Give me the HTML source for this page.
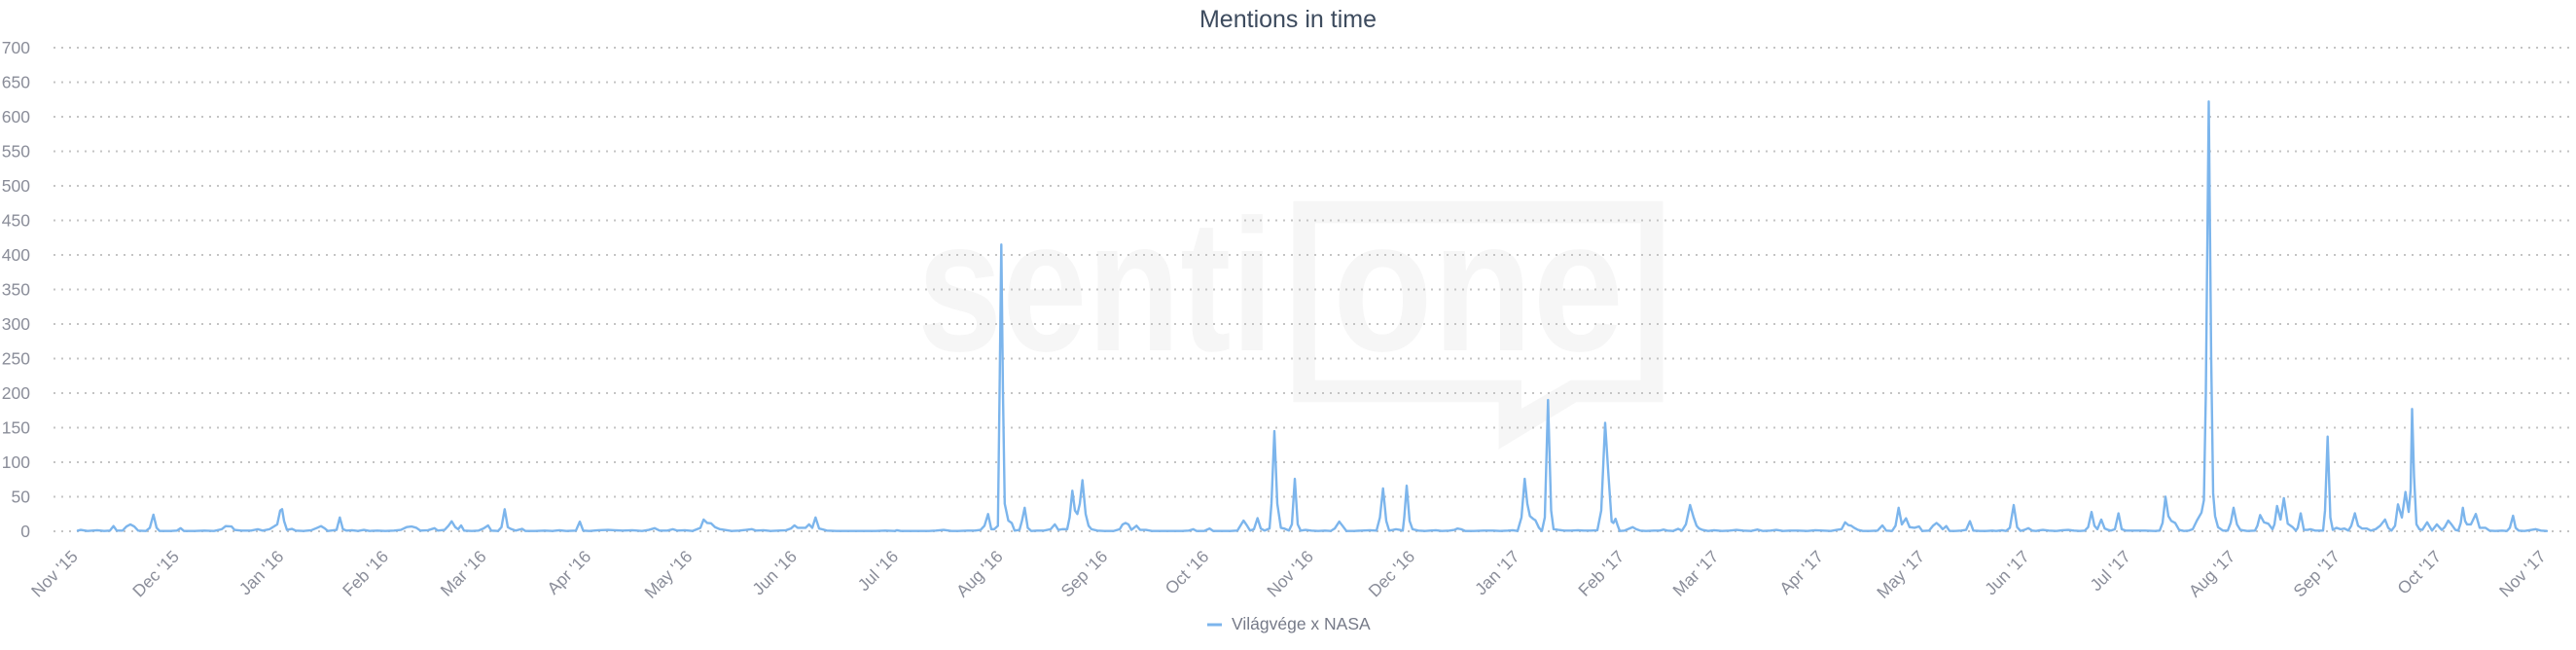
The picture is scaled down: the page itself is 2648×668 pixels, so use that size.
<!DOCTYPE html>
<html>
<head>
<meta charset="utf-8">
<style>
html,body{margin:0;padding:0;background:#fff;}
svg{display:block;}
text{font-family:"Liberation Sans",sans-serif;}
</style>
</head>
<body>
<svg width="2648" height="668" viewBox="0 0 2648 668" xmlns="http://www.w3.org/2000/svg">
<rect x="0" y="0" width="2648" height="668" fill="#ffffff"/>

<!-- watermark -->
<g fill="#f6f6f6">
  <text x="943" y="360" font-size="193" font-weight="bold" textLength="366" lengthAdjust="spacingAndGlyphs" style="font-family:'Liberation Sans',sans-serif">senti</text>
  <text x="1370" y="360" font-size="193" font-weight="bold" textLength="299" lengthAdjust="spacingAndGlyphs" style="font-family:'Liberation Sans',sans-serif">one</text>
  <path fill-rule="evenodd" d="M1329.4,206.7 H1709.4 V413.3 H1620.4 L1540.6,461.7 V413.3 H1329.4 Z M1351.8,229.3 H1686.5 V390.7 H1614.7 L1564,420 V390.7 H1351.8 Z"/>
</g>

<!-- grid -->
<g stroke="#c4c4c4" stroke-width="2" stroke-dasharray="2,6" fill="none">
  <line x1="55" x2="2644" y1="49" y2="49"/>
  <line x1="55" x2="2644" y1="84.5" y2="84.5"/>
  <line x1="55" x2="2644" y1="120" y2="120"/>
  <line x1="55" x2="2644" y1="155.5" y2="155.5"/>
  <line x1="55" x2="2644" y1="191" y2="191"/>
  <line x1="55" x2="2644" y1="226.5" y2="226.5"/>
  <line x1="55" x2="2644" y1="262" y2="262"/>
  <line x1="55" x2="2644" y1="297.5" y2="297.5"/>
  <line x1="55" x2="2644" y1="333" y2="333"/>
  <line x1="55" x2="2644" y1="368.5" y2="368.5"/>
  <line x1="55" x2="2644" y1="404" y2="404"/>
  <line x1="55" x2="2644" y1="439.5" y2="439.5"/>
  <line x1="55" x2="2644" y1="475" y2="475"/>
  <line x1="55" x2="2644" y1="510.5" y2="510.5"/>
  <line x1="55" x2="2644" y1="546" y2="546"/>
</g>

<!-- y labels -->
<g fill="#8a8d99" font-size="17.5" text-anchor="end">
  <text x="31" y="55">700</text>
  <text x="31" y="90.5">650</text>
  <text x="31" y="126">600</text>
  <text x="31" y="161.5">550</text>
  <text x="31" y="197">500</text>
  <text x="31" y="232.5">450</text>
  <text x="31" y="268">400</text>
  <text x="31" y="303.5">350</text>
  <text x="31" y="339">300</text>
  <text x="31" y="374.5">250</text>
  <text x="31" y="410">200</text>
  <text x="31" y="445.5">150</text>
  <text x="31" y="481">100</text>
  <text x="31" y="516.5">50</text>
  <text x="31" y="552">0</text>
</g>

<!-- title -->
<text x="1324" y="28" text-anchor="middle" font-size="25" fill="#3d4b5e">Mentions in time</text>

<!-- x labels -->
<g fill="#8a8d99" font-size="17.5" text-anchor="end">
  <text x="81" y="573" transform="rotate(-45 81 573)">Nov '15</text>
  <text x="185.1" y="573" transform="rotate(-45 185.1 573)">Dec '15</text>
  <text x="292.7" y="573" transform="rotate(-45 292.7 573)">Jan '16</text>
  <text x="400.3" y="573" transform="rotate(-45 400.3 573)">Feb '16</text>
  <text x="500.9" y="573" transform="rotate(-45 500.9 573)">Mar '16</text>
  <text x="608.5" y="573" transform="rotate(-45 608.5 573)">Apr '16</text>
  <text x="712.7" y="573" transform="rotate(-45 712.7 573)">May '16</text>
  <text x="820.2" y="573" transform="rotate(-45 820.2 573)">Jun '16</text>
  <text x="924.4" y="573" transform="rotate(-45 924.4 573)">Jul '16</text>
  <text x="1031.9" y="573" transform="rotate(-45 1031.9 573)">Aug '16</text>
  <text x="1139.5" y="573" transform="rotate(-45 1139.5 573)">Sep '16</text>
  <text x="1243.7" y="573" transform="rotate(-45 1243.7 573)">Oct '16</text>
  <text x="1351.2" y="573" transform="rotate(-45 1351.2 573)">Nov '16</text>
  <text x="1455.4" y="573" transform="rotate(-45 1455.4 573)">Dec '16</text>
  <text x="1562.9" y="573" transform="rotate(-45 1562.9 573)">Jan '17</text>
  <text x="1670.5" y="573" transform="rotate(-45 1670.5 573)">Feb '17</text>
  <text x="1767.7" y="573" transform="rotate(-45 1767.7 573)">Mar '17</text>
  <text x="1875.3" y="573" transform="rotate(-45 1875.3 573)">Apr '17</text>
  <text x="1979.4" y="573" transform="rotate(-45 1979.4 573)">May '17</text>
  <text x="2087" y="573" transform="rotate(-45 2087 573)">Jun '17</text>
  <text x="2191.1" y="573" transform="rotate(-45 2191.1 573)">Jul '17</text>
  <text x="2298.7" y="573" transform="rotate(-45 2298.7 573)">Aug '17</text>
  <text x="2406.3" y="573" transform="rotate(-45 2406.3 573)">Sep '17</text>
  <text x="2510.4" y="573" transform="rotate(-45 2510.4 573)">Oct '17</text>
  <text x="2618" y="573" transform="rotate(-45 2618 573)">Nov '17</text>
</g>

<!-- series -->
<g transform="matrix(1,0,0,-0.71,0,546)">
<polyline fill="none" stroke="#7cb5ec" stroke-width="2.4" stroke-linejoin="round" stroke-linecap="round" vector-effect="non-scaling-stroke" points="
80,1 83,2 90,0.5 100,1.5 107,0.5 113,1 116.7,7.5 120,1 126,1 130,7 134,10 138,7 142,1 150,0.5 154,5 157.7,24 161,5 164,0.5 175,0.5 182,1 185.7,4.5 189,0.5 200,0.5 210,1 220,0.5 228,3 232,7.5 238,7 241,2 248,1 258,1 265,3 270,1 277,3 281.7,7 285,10 288,30 290,32 292,15 295,2 300,3.5 304,1 312,0.5 320,1.5 326,5 330,7.5 334,4 337,0.5 346,2 349.3,20 352.5,3 356,1 362,1.5 368,0.5 374,2 380,0.5 388,1 396,0.5 405,1 412,2 418,6 423,7 428,5 432,1 440,1.5 446.7,4.5 450,1 457,2 461,8 464.3,14.5 468,6 471,3 474,8.5 477,1 485,0.5 492,1 497,4 501.7,8.5 505,1 512,0.5 515.5,6 518.8,32 522,6 525,3.5 530,1 536.7,3.5 540,0.5 550,0.5 560,1 568,0.5 575,1.5 582,0.5 592,1 596,14 599.5,1 606,0.5 615,1.5 625,2 632,1.5 640,1 650,1.5 660,0.5 667,2 673,4.5 678,1 686,1 691.7,3 696,1 704,1.5 712,0.5 720,5 723.3,17 727,12 731,11.5 735,6 740,3 745,2 752,0.5 760,1 767,2 773,3 777,1 785,1.5 792,0.5 800,1 808,1.5 813,4 816.7,8.5 820,5 824,5 828,5 831.7,10 835,5 838.3,20 842,4 845,3 850,1 860,0.5 870,0.5 880,0.5 890,0.5 900,0.5 910,1 920,0.5 922,1.5 926,0.5 935,0.5 945,0.5 955,0.5 962,1 970,2 978,0.5 985,0.5 995,1 1002,1 1008,2 1012,8 1015.7,25 1019,3 1022,3 1025.8,8 1027.5,200 1029.3,415 1031,200 1032.8,40 1036.5,15.5 1040,12 1043,1 1048,2 1050.5,15 1053.3,34 1056.5,5 1060,0.5 1066,1 1073,1 1080,3 1084.3,10 1088,2 1092,3 1097,3 1099.5,20 1102.3,58.7 1105,30 1107.5,25 1110,40 1112.7,74 1116,25 1119,8 1122,3 1128,1 1135,0.5 1145,0.5 1151,3 1154,10 1157,12 1160,10 1163,2 1168.3,8 1172,2 1178,2 1184,0.5 1195,0.5 1205,0.5 1215,0.5 1222,1 1226.7,3 1230,0.5 1238,0.5 1243.3,4 1247,0.5 1255,0.5 1265,0.5 1272,1 1275,8 1278.3,15.5 1282,8 1285,1 1289,3 1292.7,19 1296,4 1300,1 1305,4 1307,40 1310,145 1313,40 1316.7,5 1320,4 1325,1 1328,10 1331,76 1334,10 1337,1 1342,2 1348,1 1355,0.5 1362,1 1368,0.5 1372,4 1376.7,14 1380,8 1384,0.5 1392,0.5 1400,1 1408,1.5 1415,1 1418.5,20 1421.7,62 1425,15 1428,1 1432,2 1435,3 1439,2 1442,1 1443.5,20 1446,66 1449,15 1452,3 1458,1 1465,0.5 1470,1 1476,1.5 1482,0.5 1490,1 1495,2 1498.3,4 1502,3 1506,0.5 1515,0.5 1525,1 1535,1 1542,0.5 1550,1 1555,1.5 1560,0.5 1564,20 1567.3,76 1570,40 1572.7,22 1576,18 1578.3,16 1582,5 1585,0.5 1588,20 1591.3,190 1594.5,30 1597,3 1602,2 1608,1 1615,1 1622,1.5 1628,1 1635,1 1642,1.5 1646,30 1650,157 1653,90 1656.7,14 1658.5,12 1660.7,18 1663,8 1665,0.5 1670,1 1675,4 1678.3,6 1682,3 1686,1 1692,0.5 1700,1 1706,1 1710,2.5 1714,1 1720,0.5 1725,3.5 1729,1 1733,10 1737.3,38 1741,20 1744,8 1746.7,4 1750,2 1756,0.5 1762,1.5 1770,0.5 1778,1 1785,2 1792,1 1800,0.5 1806.7,2.5 1812,0.5 1820,1 1826,2 1833,0.5 1840,1 1848,1 1858,0.5 1866,1.5 1874,1 1882,0.5 1888,2 1893,3 1896.7,13 1900,9 1903,8 1906,5 1910,2 1915,0.5 1922,0.5 1930,1 1935,8.5 1939,1 1945,0.5 1948.5,8 1951.7,34 1955,10 1959.3,18.8 1963,6 1968,5 1972.7,7 1976,0.5 1983,1 1987,8 1990.7,12 1994,8 1997,3 2000.7,7.5 2004,0.5 2010,0.5 2016,1 2021,2 2025,14.6 2028.5,1 2035,0.5 2042,0.5 2048,1 2052,0.5 2058,1.5 2062,0.5 2066,5 2070,38 2073.5,6 2077,0.5 2081,2 2085,4.5 2089,1 2093,0.5 2097,1.5 2100,2 2106,1 2114,0.5 2120,1.5 2126,2 2132,1 2138,0.5 2143,1 2146.5,6 2150,28 2153,8 2156,3 2160,17 2163.5,4 2167,2 2170,1 2174,3 2177.7,26 2181,3 2185,1 2195,1 2205,1 2215,0.5 2220,1 2223,12 2226,50 2229,22 2232,15 2236,12 2240,2 2245,0.5 2250,1 2254,3 2258.3,15.5 2263,27 2265.5,45 2267.5,200 2270.5,622 2273,250 2275,55 2277,22 2280,6 2285,1 2290,1 2293,12 2296,34 2299.5,10 2303,2 2310,0.5 2318,1 2320.5,8 2323.3,23.5 2327.3,13 2331.7,11 2336,3 2338,10 2340.7,36.6 2344.3,17 2347.7,48 2351.7,11 2356.7,6 2360,1 2362,5 2365,26 2368.3,2 2372,2 2375,3 2380,1 2388,1 2390,30 2392.7,137 2395.5,20 2398,2 2401.7,5 2406,3 2410,4 2414,1 2417,8 2420.7,26 2424,8 2428,4 2433,4 2437,1 2442,3 2446.7,8 2451.7,17 2455,5 2458.3,1 2462,8 2465,39 2469,20 2472.7,57 2476,28 2478,60 2479.5,177 2481.5,80 2484,10 2487,3 2490,2 2495,13 2500,1 2505,10 2510,2 2513,6 2516.7,15.5 2520,10 2524,2 2527,1 2529.5,12 2531.7,34 2534,15 2536,10 2540,10 2545,25 2549,5 2552,5 2555,5 2559,1 2565,0.5 2572,1 2577,0.5 2580,5 2583.3,22.5 2586,5 2589,1 2595,0.5 2600,1.5 2606.7,3 2612,1 2618,0.5"/>
</g>

<!-- legend -->
<line x1="1241" y1="642" x2="1256" y2="642" stroke="#7cb5ec" stroke-width="3"/>
<text x="1266" y="647" font-size="17.5" fill="#767a88">Világvége x NASA</text>
</svg>
</body>
</html>
